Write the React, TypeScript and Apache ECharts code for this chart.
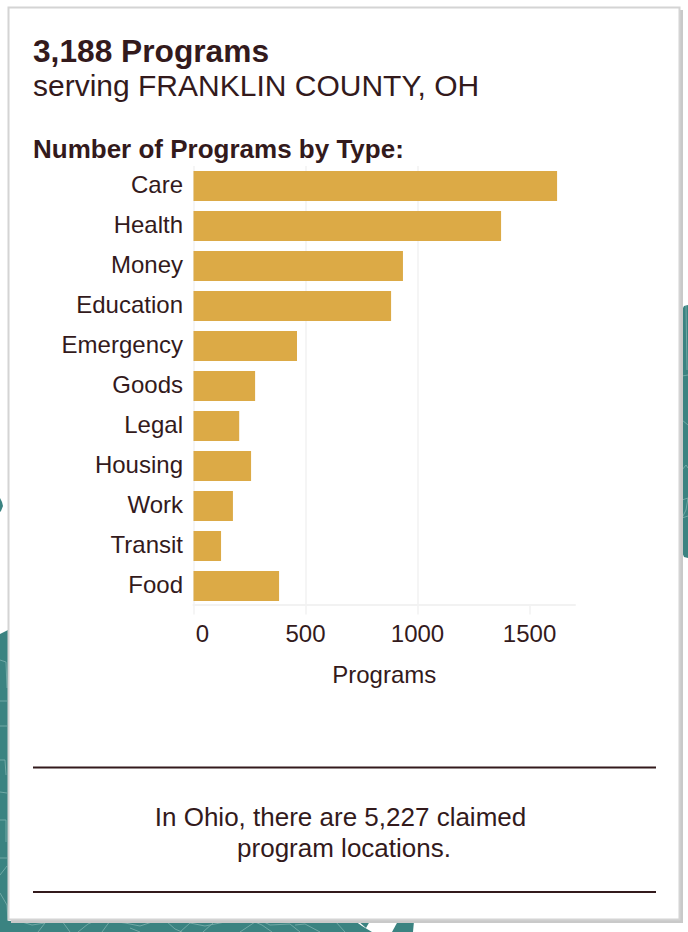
import React, { useEffect, useRef } from "react";
import * as echarts from "echarts";

const categories = ["Care", "Health", "Money", "Education", "Emergency", "Goods", "Legal", "Housing", "Work", "Transit", "Food"];
const programCounts = [1623, 1373, 935, 882, 462, 275, 204, 257, 176, 123, 382];
const xTickValues = [0, 500, 1000, 1500];

const INK = "#331a1c";
const GOLD = "#dcaa46";
const GRID = "#f2f2f2";
const TEAL = "#3b8381";
const SEAM = "#7fb2af";
const FONT = "'Liberation Sans', Arial, sans-serif";

const tealShapes: number[][][] = [
  [[0, 634], [8, 630], [8, 932], [0, 932]],
  [[0, 921], [355, 921], [362, 926], [372, 932], [0, 932]],
  [[358, 921], [370, 921], [366, 928]],
  [[398, 921], [414, 921], [413, 932], [392, 932]],
  [[688, 305], [684, 306], [682, 310], [682, 552], [684, 557], [688, 558]],
  [[0, 498], [2, 502], [3, 506], [1, 511], [0, 512]],
];
const seams: number[][][] = [
  [[0, 660], [6, 662], [7, 688]],
  [[0, 701], [7, 701]],
  [[0, 726], [7, 726]],
  [[0, 760], [5, 760], [6, 775]],
  [[0, 792], [7, 793]],
  [[0, 820], [6, 820], [6, 842]],
  [[0, 858], [7, 858]],
  [[0, 875], [7, 866]],
  [[0, 893], [7, 905], [8, 921]],
  [[22, 922], [32, 925], [45, 923]],
  [[38, 932], [45, 923]],
  [[62, 921], [70, 932]],
  [[78, 932], [88, 924], [95, 921]],
  [[102, 932], [110, 921], [125, 923], [140, 926], [155, 921]],
  [[130, 928], [140, 932]],
  [[166, 921], [175, 929], [182, 932]],
  [[180, 932], [190, 923], [205, 926], [230, 921]],
  [[203, 932], [213, 923]],
  [[240, 932], [255, 922], [262, 925], [272, 932]],
  [[262, 921], [270, 925], [290, 924], [300, 932]],
  [[295, 925], [305, 924], [320, 932]],
  [[335, 921], [345, 932]],
  [[686, 306], [687, 370]],
  [[682, 376], [688, 375]],
  [[682, 420], [688, 425]],
  [[682, 470], [686, 465], [688, 468]],
  [[682, 500], [688, 498], [686, 510], [682, 518]],
  [[682, 518], [688, 516]],
];

export default function App() {
  const ref = useRef<HTMLDivElement | null>(null);
  useEffect(() => {
    document.body.style.margin = "0";
    document.body.style.background = "#fff";
    const chart = echarts.init(ref.current!, undefined, { renderer: "svg" });
    const txt = (x: number, y: number, text: string, fontSize: number, fontWeight = "normal", align = "left") => ({
      type: "text", x, y, z: 5, silent: true,
      style: { text, fontSize, fontWeight, fontFamily: FONT, fill: INK, textAlign: align, textVerticalAlign: "middle" },
    });
    chart.setOption({
      animation: false,
      textStyle: { fontFamily: FONT, color: INK },
      grid: { left: 193.5, top: 166, width: 381.5, height: 440, containLabel: false },
      xAxis: {
        type: "value", min: 0, max: 1703, interval: 500, offset: -1.5,
        name: "Programs", nameLocation: "middle", nameGap: 58,
        nameTextStyle: { fontSize: 24, color: INK, fontFamily: FONT },
        axisLine: { show: true, lineStyle: { color: GRID, width: 2 } },
        axisTick: { show: true, length: 10, lineStyle: { color: GRID, width: 1.5 }, customValues: xTickValues },
        splitLine: { show: true, showMaxLine: false, lineStyle: { color: GRID, width: 1.5 } },
        axisLabel: {
          fontSize: 24, color: INK, fontFamily: FONT, margin: 17,
          customValues: xTickValues,
          formatter: (v: number) => (v === 0 ? "{zero|0}" : String(v)),
          rich: { zero: { fontSize: 24, color: INK, fontFamily: FONT, padding: [0, 0, 0, 18] } },
        },
      },
      yAxis: {
        type: "category", inverse: true, data: categories,
        axisLine: { show: false }, axisTick: { show: false }, splitLine: { show: false },
        axisLabel: {
          fontSize: 24, color: INK, fontFamily: FONT, margin: 10.5, align: "right", verticalAlign: "middle",
          formatter: (v: string) => `{c|${v}}`,
          rich: { c: { fontSize: 24, color: INK, fontFamily: FONT, padding: [0, 0, 4, 0] } },
        },
      },
      series: [{ type: "bar", data: programCounts, barWidth: 30, itemStyle: { color: GOLD }, silent: true }],
      graphic: { elements: [
        ...tealShapes.map((points) => ({ type: "polygon", z: -9, silent: true, shape: { points }, style: { fill: TEAL } })),
        ...seams.map((points) => ({ type: "polyline", z: -8, silent: true, shape: { points }, style: { stroke: SEAM, lineWidth: 0.8, fill: "none" } })),
        { type: "rect", z: -7, silent: true, shape: { x: 11, y: 10, width: 672, height: 913 }, style: { fill: "#c9c9c9" } },
        { type: "rect", z: -6, silent: true, shape: { x: 8.5, y: 7.5, width: 671, height: 912 }, style: { fill: "#ffffff", stroke: "#d4d4d4", lineWidth: 2 } },
        txt(33, 51, "3,188 Programs", 31.7, "bold"),
        txt(33, 85.5, "serving FRANKLIN COUNTY, OH", 30),
        txt(33, 149, "Number of Programs by Type:", 26, "bold"),
        { type: "line", z: 5, silent: true, shape: { x1: 33, y1: 767.5, x2: 656, y2: 767.5 }, style: { stroke: INK, lineWidth: 2 } },
        txt(340.5, 817, "In Ohio, there are 5,227 claimed", 26, "normal", "center"),
        txt(344, 848, "program locations.", 26, "normal", "center"),
        { type: "line", z: 5, silent: true, shape: { x1: 33, y1: 892, x2: 656, y2: 892 }, style: { stroke: INK, lineWidth: 2 } },
      ] },
    });
    return () => chart.dispose();
  }, []);
  return <div ref={ref} style={{ width: 688, height: 932 }} />;
}
